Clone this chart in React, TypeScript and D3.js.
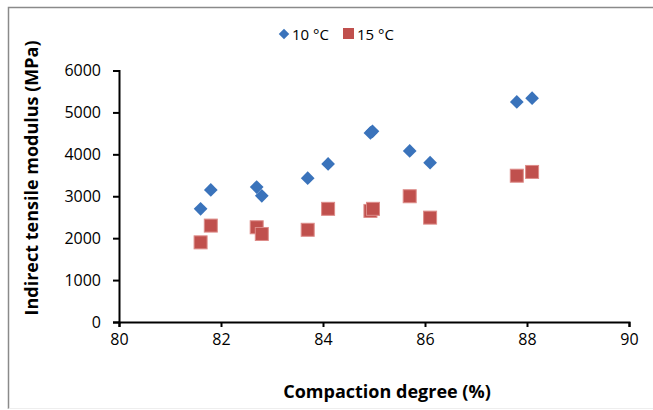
import React, { useEffect, useRef } from 'react'
import * as d3 from 'd3'

// 10 °C series
const degree10 = [81.6, 81.8, 82.7, 82.8, 83.7, 84.1, 84.93, 84.97, 85.7, 86.1, 87.8, 88.1]
const modulus10 = [2700, 3150, 3220, 3010, 3430, 3770, 4510, 4550, 4080, 3800, 5250, 5340]
// 15 °C series
const degree15 = [81.6, 81.8, 82.7, 82.8, 83.7, 84.1, 84.93, 84.98, 85.7, 86.1, 87.8, 88.1]
const modulus15 = [1900, 2300, 2260, 2100, 2200, 2700, 2650, 2700, 3000, 2490, 3490, 3580]

const xTicks = [80, 82, 84, 86, 88, 90]
const yTicks = [0, 1000, 2000, 3000, 4000, 5000, 6000]

const font = '"Open Sans", Carlito, "Liberation Sans", sans-serif'

const App = () => {
  const ref = useRef<SVGSVGElement>(null)

  useEffect(() => {
    const svg = d3.select(ref.current)
    svg.selectAll('*').remove()

    const x = d3.scaleLinear().domain([80, 90]).range([119, 629])
    const y = d3.scaleLinear().domain([0, 6000]).range([322, 70.5])

    // frame
    svg.append('path')
      .attr('d', 'M653,7.5 H8.5 V409')
      .attr('fill', 'none')
      .attr('stroke', '#8a8a8a')
      .attr('stroke-width', 1.5)
    svg.append('line')
      .attr('x1', 8.5).attr('x2', 653).attr('y1', 408.5).attr('y2', 408.5)
      .attr('stroke', '#eeeeee')

    // x axis
    const gx = svg.append('g')
      .attr('transform', `translate(0,${y(0)})`)
      .call(d3.axisBottom(x).tickValues(xTicks).tickFormat(d3.format('d')).tickSize(5).tickSizeOuter(5).tickPadding(7))
    // y axis
    const gy = svg.append('g')
      .attr('transform', `translate(${x(80)},0)`)
      .call(d3.axisLeft(y).tickValues(yTicks).tickFormat(d3.format('d')).tickSize(6).tickSizeOuter(6).tickPadding(12))

    ;[gx, gy].forEach((g) => {
      g.select('.domain').attr('stroke', '#000').attr('stroke-width', 2)
      g.selectAll('.tick line').attr('stroke', '#000').attr('stroke-width', 2)
      g.selectAll('.tick text')
        .attr('fill', '#000')
        .style('font-family', font)
        .style('font-size', '16px')
    })

    // 10 °C diamonds
    const diamond = d3.symbol().type(d3.symbolDiamond2).size(120)
    svg.append('g')
      .selectAll('path')
      .data(degree10.map((d, i) => [d, modulus10[i]]))
      .enter()
      .append('path')
      .attr('d', diamond)
      .attr('transform', (d) => `translate(${x(d[0])},${y(d[1])})`)
      .attr('fill', '#3a73bb')

    // 15 °C squares
    const sq = 13
    svg.append('g')
      .selectAll('rect')
      .data(degree15.map((d, i) => [d, modulus15[i]]))
      .enter()
      .append('rect')
      .attr('x', (d) => x(d[0]) - sq / 2)
      .attr('y', (d) => y(d[1]) - sq / 2)
      .attr('width', sq)
      .attr('height', sq)
      .attr('fill', '#c0504d')
      .attr('stroke', '#dd8c89')
      .attr('stroke-width', 1)

    // legend
    svg.append('path')
      .attr('d', d3.symbol().type(d3.symbolDiamond2).size(70))
      .attr('transform', 'translate(284,34)')
      .attr('fill', '#3a73bb')
    svg.append('text')
      .text('10 °C')
      .attr('x', 292)
      .attr('y', 40)
      .style('font-family', font)
      .style('font-size', '15px')
    svg.append('rect')
      .attr('x', 343).attr('y', 28).attr('width', 11).attr('height', 11)
      .attr('fill', '#c0504d')
    svg.append('text')
      .text('15 °C')
      .attr('x', 357)
      .attr('y', 40)
      .style('font-family', font)
      .style('font-size', '15px')

    // axis titles
    svg.append('text')
      .text('Compaction degree (%)')
      .attr('x', 387)
      .attr('y', 398)
      .attr('text-anchor', 'middle')
      .style('font-family', font)
      .style('font-weight', 'bold')
      .style('font-size', '18px')
    svg.append('text')
      .text('Indirect tensile modulus (MPa)')
      .attr('transform', 'translate(38,178) rotate(-90)')
      .attr('text-anchor', 'middle')
      .style('font-family', font)
      .style('font-weight', 'bold')
      .style('font-size', '18px')
  }, [])

  return (
    <svg
      ref={ref}
      width={653}
      height={410}
      style={{ position: 'absolute', left: 0, top: 0, background: '#fff' }}
    />
  )
}

export default App
